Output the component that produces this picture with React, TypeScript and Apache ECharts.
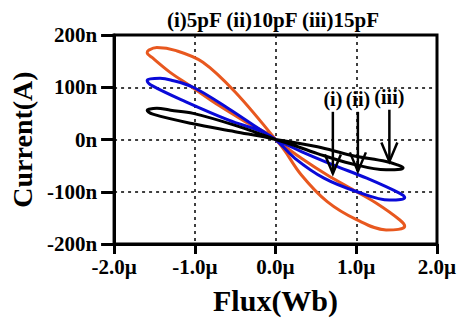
import React, { useEffect, useRef } from "react";
import * as echarts from "echarts";

// Flux in µWb, current in nA
const xTicks = [-2, -1, 0, 1, 2];
const yTicks = [-200, -100, 0, 100, 200];

const loop5pF: number[][] = [
  [0, 0], [-0.5, 27], [-1.02, 50], [-1.3, 56], [-1.47, 60], [-1.57, 58], [-1.59, 56],
  [-1.51, 48], [-1.02, 30], [-0.5, 15], [0, 0],
  [0.52, -27], [0.93, -46], [1.37, -58], [1.55, -57], [1.58, -54],
  [1.5, -48], [1.37, -42], [0.93, -30], [0.52, -14], [0, 0],
];

const loop10pF: number[][] = [
  [0, 0], [-0.21, 21], [-0.58, 59], [-1.02, 100], [-1.3, 114], [-1.43, 117], [-1.55, 116], [-1.59, 113],
  [-1.53, 103], [-1.11, 72], [-0.58, 37], [-0.17, 15], [0, 0],
  [0.24, -36], [0.6, -74], [1.01, -100], [1.41, -116], [1.55, -115], [1.6, -111],
  [1.54, -103], [1.13, -74], [0.72, -49], [0.32, -23], [0, 0],
];

const loop15pF: number[][] = [
  [0, 0], [-0.5, 91], [-0.9, 148], [-1.23, 170], [-1.47, 176], [-1.57, 171], [-1.59, 166],
  [-1.53, 157], [-1.31, 129], [-1.06, 103], [-0.7, 65], [-0.33, 30], [0, 0],
  [0.32, -68], [0.64, -119], [1.01, -154], [1.37, -173], [1.52, -172], [1.6, -166],
  [1.54, -154], [1.25, -122], [0.97, -97], [0.64, -68], [0.32, -36], [0, 0],
];

const arrowLabels = ["(i)", "(ii)", "(iii)"];
const arrowFlux = [0.71, 1.02, 1.41];
const arrowStart = [53, 53, 57];
const arrowTip = [-65, -61, -42];

const titleText = "(i)5pF (ii)10pF (iii)15pF";
const FONT = '"Liberation Serif", "Times New Roman", serif';

export default function App() {
  const ref = useRef<HTMLDivElement>(null);
  useEffect(() => {
    document.body.style.margin = "0";
    if (!ref.current) return;
    const chart = echarts.init(ref.current, null, { renderer: "svg" });
    const lineSeries = (data: number[][], color: string) => ({
      type: "line",
      data,
      showSymbol: false,
      symbol: "none",
      smooth: 0.35,
      lineStyle: { color, width: 3 },
      z: 3,
    });
    chart.setOption({
      animation: false,
      backgroundColor: "#fff",
      grid: {
        left: 110, right: 28, top: 35, bottom: 75,
        show: true, borderColor: "#000", borderWidth: 3,
      },
      graphic: [
        {
          type: "text", x: 273, y: 20, z: 10,
          style: {
            text: titleText, textAlign: "center", textVerticalAlign: "middle", verticalAlign: "middle",
            font: `bold 21px ${FONT}`, fill: "#000",
          },
        },
      ],
      xAxis: {
        type: "value", min: xTicks[0], max: xTicks[xTicks.length - 1], interval: 1,
        name: "Flux(Wb)", nameLocation: "middle", nameGap: 41,
        nameTextStyle: { fontFamily: FONT, fontWeight: "bold", fontSize: 30, color: "#000" },
        axisLine: { show: true, onZero: false, lineStyle: { color: "#000", width: 3 } },
        axisTick: { show: true, inside: false, length: 10, lineStyle: { color: "#000", width: 3 } },
        axisLabel: {
          margin: 12, fontFamily: FONT, fontWeight: "bold", fontSize: 21, color: "#000",
          formatter: (v: number) => v.toFixed(1) + "µ",
        },
        splitLine: { show: true, lineStyle: { color: "#000", width: 1.5, type: [3, 4] } },
      },
      yAxis: {
        type: "value", min: yTicks[0], max: yTicks[yTicks.length - 1], interval: 100,
        name: "Current(A)", nameLocation: "middle", nameGap: 67, nameRotate: 90,
        nameTextStyle: { fontFamily: FONT, fontWeight: "bold", fontSize: 28, color: "#000" },
        axisLine: { show: true, onZero: false, lineStyle: { color: "#000", width: 3 } },
        axisTick: { show: true, inside: false, length: 13, lineStyle: { color: "#000", width: 3 } },
        axisLabel: {
          margin: 17, fontFamily: FONT, fontWeight: "bold", fontSize: 21, color: "#000",
          formatter: (v: number) => v + "n",
        },
        splitLine: { show: true, lineStyle: { color: "#000", width: 1.5, type: [3, 4] } },
      },
      series: [
        lineSeries(loop15pF, "#E8581F"),
        lineSeries(loop10pF, "#0A0AD8"),
        lineSeries(loop5pF, "#000000"),
        {
          type: "custom",
          z: 5,
          data: arrowFlux.map((x, i) => [x, arrowStart[i], arrowTip[i]]),
          renderItem: (params: any, api: any) => {
            const x = api.value(0);
            const top = api.coord([x, api.value(1)]);
            const tip = api.coord([x, api.value(2)]);
            return {
              type: "group",
              children: [
                { type: "line", shape: { x1: top[0], y1: top[1], x2: tip[0], y2: tip[1] },
                  style: { stroke: "#000", lineWidth: 2.5 } },
                { type: "polyline",
                  shape: { points: [[tip[0] - 8, tip[1] - 19], [tip[0], tip[1]], [tip[0] + 8, tip[1] - 19]] },
                  style: { stroke: "#000", fill: null, lineWidth: 2.5 } },
                { type: "text", x: top[0], y: top[1] - 3,
                  style: { text: arrowLabels[params.dataIndex], textAlign: "center", textVerticalAlign: "bottom",
                    verticalAlign: "bottom", font: `bold 20px ${FONT}`, fill: "#000" } },
              ],
            };
          },
        },
      ],
    });
    return () => chart.dispose();
  }, []);
  return <div ref={ref} style={{ width: 465, height: 320 }} />;
}
